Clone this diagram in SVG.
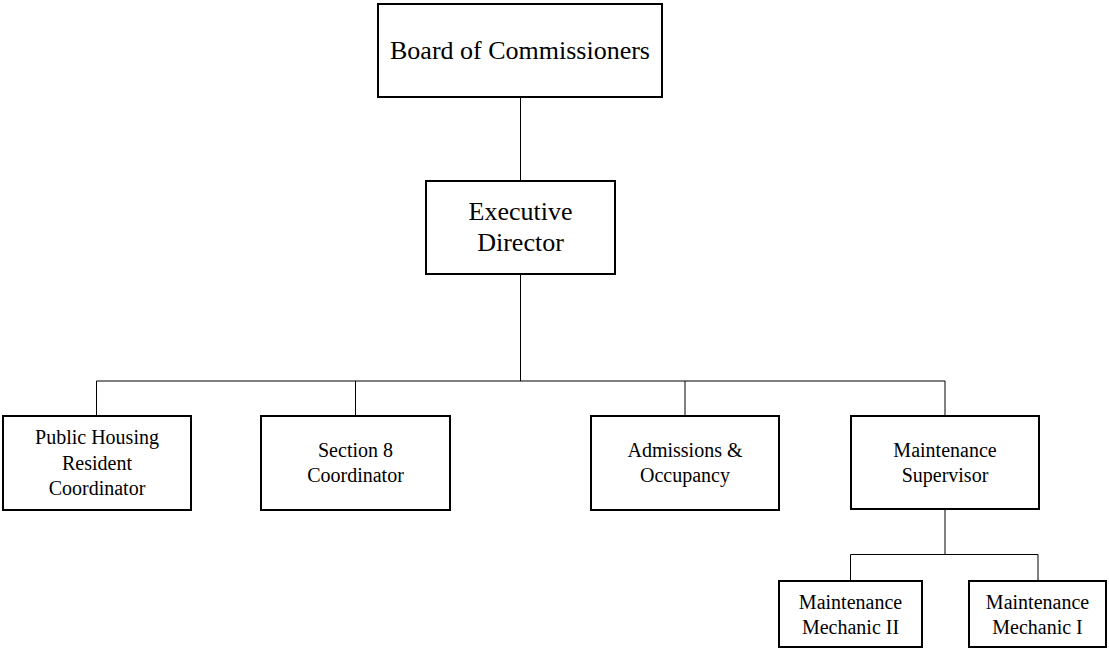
<svg xmlns="http://www.w3.org/2000/svg" width="1109" height="652" viewBox="0 0 1109 652">
<style>
.box{fill:#fff;stroke:#000;stroke-width:2}
.lbl{font-family:"Liberation Serif","Times New Roman",serif;fill:#000;text-anchor:middle}
.big{font-size:26px}
.sm{font-size:20px}
.conn{stroke:#000;stroke-width:1;fill:none}
</style>
<rect width="1109" height="652" fill="#fff"/>
<g id="connectors">
<path class="conn" d="M520.5 97V181"/>
<path class="conn" d="M520.5 274V381"/>
<path class="conn" d="M96.5 381H945"/>
<path class="conn" d="M96.5 381V416M355.5 381V416M685 381V416M945 381V416"/>
<path class="conn" d="M945 509V554.5M850.5 554.5H1038M850.5 554.5V581M1038 554.5V581"/>
</g>
<g id="board">
<rect class="box" x="378" y="4" width="284" height="93"/>
<text class="lbl big" x="520" y="59">Board of Commissioners</text>
</g>
<g id="exec">
<rect class="box" x="426" y="181" width="189" height="93"/>
<text class="lbl big" x="520.5" y="220">Executive</text>
<text class="lbl big" x="520.5" y="251">Director</text>
</g>
<g id="public-housing">
<rect class="box" x="3" y="416" width="188" height="94"/>
<text class="lbl sm" x="97" y="444">Public Housing</text>
<text class="lbl sm" x="97" y="470">Resident</text>
<text class="lbl sm" x="97" y="495">Coordinator</text>
</g>
<g id="section8">
<rect class="box" x="261" y="416" width="189" height="94"/>
<text class="lbl sm" x="355.5" y="457">Section 8</text>
<text class="lbl sm" x="355.5" y="482">Coordinator</text>
</g>
<g id="admissions">
<rect class="box" x="591" y="416" width="188" height="94"/>
<text class="lbl sm" x="685" y="457">Admissions &amp;</text>
<text class="lbl sm" x="685" y="482">Occupancy</text>
</g>
<g id="maint-supervisor">
<rect class="box" x="851" y="416" width="188" height="93"/>
<text class="lbl sm" x="945" y="457">Maintenance</text>
<text class="lbl sm" x="945" y="482">Supervisor</text>
</g>
<g id="mechanic2">
<rect class="box" x="779" y="581" width="143" height="66"/>
<text class="lbl sm" x="850.5" y="609">Maintenance</text>
<text class="lbl sm" x="850.5" y="634">Mechanic II</text>
</g>
<g id="mechanic1">
<rect class="box" x="969" y="581" width="137" height="66"/>
<text class="lbl sm" x="1037.5" y="609">Maintenance</text>
<text class="lbl sm" x="1037.5" y="634">Mechanic I</text>
</g>
</svg>
